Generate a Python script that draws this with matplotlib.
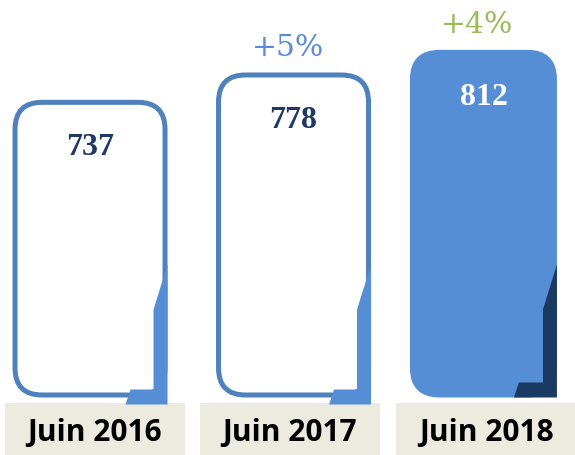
import matplotlib.pyplot as plt
from matplotlib.patches import FancyBboxPatch, Rectangle, Polygon

# data
periods = ["Juin 2016", "Juin 2017", "Juin 2018"]
values = [737, 778, 812]
growth = ["", "+5%", "+4%"]

# layout
bar_x = [0, 1.033, 1.997]
box_x = [0.025, 1.015, 2.012]
bar_w_px = [150, 150, 142]

W, H = 575, 455
fig = plt.figure(figsize=(W / 100, H / 100), dpi=100)
ax = fig.add_axes([0, 0, 1, 1])

# axis limits chosen so the bars start from a cut baseline, like the original
base = 298
x0, x1 = -0.457, -0.457 + W / 197
y0, y1 = 208, 208 + H * 1.5
ax.set_xlim(x0, x1)
ax.set_ylim(y0, y1)
ax.axis("off")

px = (x1 - x0) / W   # x units per pixel
py = (y1 - y0) / H   # y units per pixel
aspect = py / px

lw_px = 5
for i, v in enumerate(values):
    xc = bar_x[i]
    bw = bar_w_px[i] * px
    filled = i == len(values) - 1
    face = "#558ED5" if filled else "white"
    edge = "#558ED5" if filled else "#4F81BD"
    bar = FancyBboxPatch((xc - bw / 2, base), bw, v - base,
                         boxstyle="round,pad=0,rounding_size=%f" % (27 * px),
                         mutation_aspect=aspect,
                         fc=face, ec=edge, lw=lw_px * 0.72, zorder=2)
    ax.add_patch(bar)

    # folded corner at the bottom right
    xr = xc + bw / 2 + 2.5 * px
    yb = base - 2.5 * py
    if filled:
        pts = [(0, 133), (0, 0), (-43, 0), (-38, 15), (-14, 15), (-14, 88)]
    else:
        pts = [(0, 133), (0, -7), (-42, -7), (-37, 8), (-14, 8), (-14, 88)]
    fold_col = "#1B3A63" if filled else "#558ED5"
    ax.add_patch(Polygon([(xr + dx * px, yb + dy * py) for dx, dy in pts],
                         closed=True, fc=fold_col, ec="none", zorder=3))

    ax.text(xc, v - 45 * py, str(v), ha="center", va="center",
            fontsize=23, fontweight="bold", family="Liberation Serif",
            color="white" if filled else "#1F3864", zorder=4)

    if growth[i]:
        col = "#9BBB59" if filled else "#5B8DD6"
        ax.text(xc - 0.03, v + 27 * py, growth[i], ha="center", va="center",
                fontsize=21.5, family="DejaVu Serif", color=col, zorder=4)

    # label box under each bar
    ax.add_patch(Rectangle((box_x[i] - 90 * px, y0), 180 * px, 52 * py,
                           fc="#EDEAE0", ec="none", zorder=1))
    ax.text(box_x[i], y0 + 22 * py, periods[i], ha="center", va="center",
            fontsize=21.5, fontweight="bold", family="Open Sans",
            color="black", zorder=4)

plt.savefig("out.png", dpi=100)
